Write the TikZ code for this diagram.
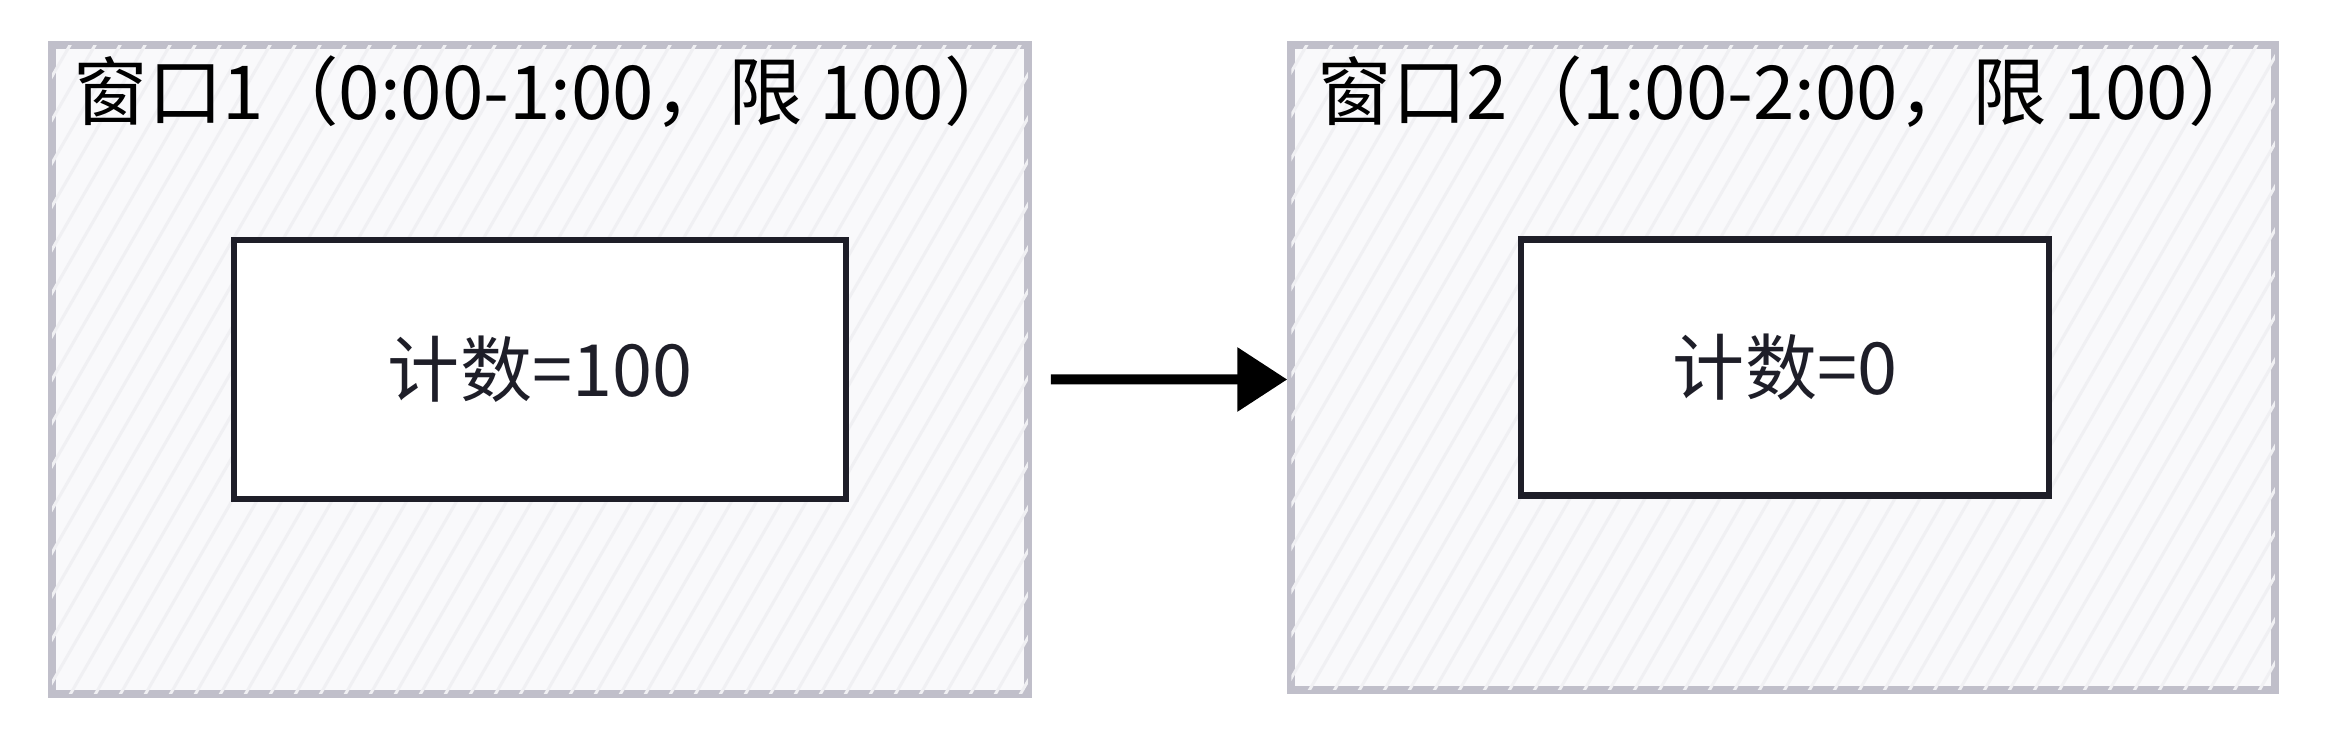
\documentclass[tikz,border=0pt]{standalone}
\usepackage{fontspec}
\setmainfont{Noto Sans CJK SC}
\usetikzlibrary{arrows.meta,calc,positioning}
\definecolor{winframe}{HTML}{C0BFCA}
\definecolor{winfill}{HTML}{F9F9FB}
\definecolor{winhatch}{HTML}{F0F0F3}
\definecolor{cntframe}{HTML}{1E1E28}
\tikzset{
  winbox/.style={draw=winframe, line width=0.75mm, fill=winfill, inner sep=0pt},
  cntbox/.style={draw=cntframe, line width=0.65mm, fill=white, text=cntframe},
  lbl/.style={font=\fontsize{20.5}{24}\selectfont},
  ttl/.style={font=\fontsize{21.2}{25}\selectfont, text=black, inner sep=0pt, anchor=base west},
}

\begin{document}
\begin{tikzpicture}
        \useasboundingbox (0,0) rectangle (23.27,7.42);

        %% first window
        \node [winbox, minimum width=9.76cm, minimum height=6.49cm] (win_1) at (5.40,3.725) {};
        \begin{scope}
          \clip ($(win_1.south west)+(.04,.04)$) rectangle ($(win_1.north east)+(-.04,-.04)$);
          \foreach \k in {0,...,55} {
            \draw [winhatch, line width=.3mm] ($(win_1.south west)+(\k*.25-3.8,0)$) -- ++(60:8);
          }
        \end{scope}
        \node [ttl] (title_1) at ($(win_1.north west)+(.25,-.78)$) {窗口1（0:00-1:00，限 100）};
        \node [cntbox, lbl, minimum width=6.12cm, minimum height=2.59cm] (cnt_1) at (win_1) {计数=100};

        %% second window
        \node [winbox, minimum width=9.84cm, minimum height=6.45cm] (win_2) at (17.83,3.745) {};
        \begin{scope}
          \clip ($(win_2.south west)+(.04,.04)$) rectangle ($(win_2.north east)+(-.04,-.04)$);
          \foreach \k in {0,...,55} {
            \draw [winhatch, line width=.3mm] ($(win_2.south west)+(\k*.25-3.8,0)$) -- ++(60:8);
          }
        \end{scope}
        \node [ttl] (title_2) at ($(win_2.north west)+(.30,-.78)$) {窗口2（1:00-2:00，限 100）};
        \node [cntbox, lbl, minimum width=5.28cm, minimum height=2.56cm] (cnt_2) at ($(win_2)+(.02,0)$) {计数=0};

        %% window switch
        \draw [line width=1mm, -{Triangle[length=5mm,width=6.2mm]}] ([xshift=1.9mm,yshift=-1mm]win_1.east) -- ([yshift=-1.2mm]win_2.west);

\end{tikzpicture}
\end{document}
